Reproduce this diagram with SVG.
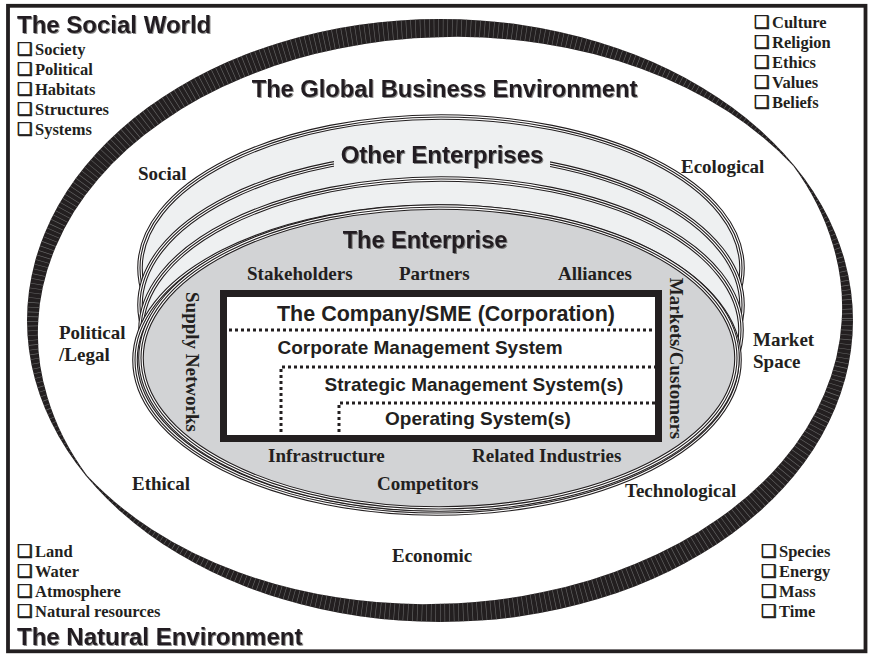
<svg xmlns="http://www.w3.org/2000/svg" xmlns:xlink="http://www.w3.org/1999/xlink" width="873" height="655" viewBox="0 0 873 655">
<style>
.ti{font-family:"Liberation Sans",Arial,sans-serif;font-weight:bold;fill:#231f20}
.tm{font-family:"Liberation Serif","Times New Roman",serif;font-weight:bold;fill:#231f20;font-size:19px}
.li{font-family:"Liberation Serif","Times New Roman",serif;font-weight:bold;font-size:16.5px;fill:#231f20}
.cb{font-family:"DejaVu Sans",sans-serif;font-weight:bold;font-size:17.5px;stroke:#231f20;stroke-width:0.7}
.rf1{fill:#eef0f1;stroke:#231f20;stroke-width:5.6}
.rf2{fill:#d2d3d5;stroke:#231f20;stroke-width:5.6}
.rw{fill:none;stroke:#fff;stroke-width:3.4}
.rk{fill:none;stroke:#231f20;stroke-width:1.1}
.dot{fill:none;stroke:#231f20;stroke-width:3;stroke-dasharray:3 3}
</style>
<defs>
<filter id="sh" x="-5%" y="-30%" width="110%" height="160%">
<feDropShadow dx="1" dy="1" stdDeviation="0.7" flood-color="#000" flood-opacity="0.45"/>
</filter>
<path id="band" fill-rule="evenodd" d="M27,320.5 A413,301.5 0 1 1 853,320.5 A413,301.5 0 1 1 27,320.5 Z
M793.15,165.73 A409.2,297.7 0 0 1 832.64,244.15 A404.1,292.6 0 0 1 841.70,320.5 A399.7,288.2 0 0 1 824.06,394.55 A396.1,284.6 0 0 1 781.66,462.01 A393.6,282.1 0 0 1 717.60,519.26 A392.3,280.8 0 0 1 636,563.42 A392.4,280.9 0 0 1 541.66,592.19 A393.8,282.3 0 0 1 440,603.86 A396.5,285 0 0 1 336.96,597.35 A400.2,288.7 0 0 1 238.85,572.34 A404.7,293.2 0 0 1 152.09,529.56 A409.6,298.1 0 0 1 86.85,475.27 A409.2,297.7 0 0 1 47.36,396.85 A404.1,292.6 0 0 1 38.30,320.5 A399.7,288.2 0 0 1 55.94,246.45 A396.1,284.6 0 0 1 98.34,178.99 A393.6,282.1 0 0 1 162.40,121.74 A392.3,280.8 0 0 1 244,77.58 A392.4,280.9 0 0 1 338.34,48.81 A393.8,282.3 0 0 1 440,37.14 A396.5,285 0 0 1 543.04,43.65 A400.2,288.7 0 0 1 641.15,68.66 A404.7,293.2 0 0 1 727.91,111.44 A409.6,298.1 0 0 1 793.15,165.73 Z"/>
<clipPath id="bandClip"><use xlink:href="#band" clip-rule="evenodd"/></clipPath>
<ellipse id="e1" cx="441" cy="268" rx="301" ry="151"/>
<ellipse id="e2" cx="441" cy="305" rx="301" ry="151"/>
<ellipse id="e3" cx="441" cy="330" rx="300" ry="151"/>
<ellipse id="e4b" cx="437" cy="360" rx="302" ry="153"/>
<ellipse id="e4" cx="439" cy="358" rx="298" ry="151"/>
</defs>
<rect x="0" y="0" width="873" height="655" fill="#fff"/>
<rect x="8" y="5.8" width="857.5" height="645.5" fill="none" stroke="#231f20" stroke-width="3.8"/>

<g id="global-business-environment">
<use xlink:href="#band" fill="#231f20"/>
<ellipse cx="440" cy="320.5" rx="402.5" ry="291" fill="none" stroke="#6a6a6a" stroke-width="30" stroke-dasharray="0.6 4" clip-path="url(#bandClip)"/>
<text class="ti" x="444.5" y="97" font-size="23.7" text-anchor="middle" filter="url(#sh)">The Global Business Environment</text>
<text class="tm" x="138" y="180">Social</text>
<text class="tm" x="681" y="173">Ecological</text>
<text class="tm" x="59" y="339">Political</text>
<text class="tm" x="59" y="361">/Legal</text>
<text class="tm" x="753" y="346">Market</text>
<text class="tm" x="753" y="368">Space</text>
<text class="tm" x="132" y="490">Ethical</text>
<text class="tm" x="625" y="497">Technological</text>
<text class="tm" x="392" y="562">Economic</text>
</g>

<g id="other-enterprises">
<use xlink:href="#e1" class="rf1"/><use xlink:href="#e1" class="rw"/><use xlink:href="#e1" class="rk"/>
<use xlink:href="#e2" class="rf1"/><use xlink:href="#e2" class="rw"/><use xlink:href="#e2" class="rk"/>
<use xlink:href="#e3" class="rf1"/><use xlink:href="#e3" class="rw"/><use xlink:href="#e3" class="rk"/>
<rect x="334" y="144" width="216" height="27" fill="#eef0f1"/>
<text class="ti" x="442" y="163" font-size="24" text-anchor="middle" filter="url(#sh)">Other Enterprises</text>
</g>

<g id="enterprise">
<use xlink:href="#e4b" class="rf2"/><use xlink:href="#e4b" class="rw"/><use xlink:href="#e4b" class="rk"/>
<use xlink:href="#e4" class="rf2"/><use xlink:href="#e4" class="rw"/><use xlink:href="#e4" class="rk"/>
<text class="ti" x="425" y="248" font-size="23.5" text-anchor="middle" filter="url(#sh)">The Enterprise</text>
<text class="tm" x="247" y="280">Stakeholders</text>
<text class="tm" x="399" y="280">Partners</text>
<text class="tm" x="558" y="280">Alliances</text>
<text class="tm" text-anchor="middle" transform="translate(186,362) rotate(90)">Supply Networks</text>
<text class="tm" text-anchor="middle" transform="translate(670,358.5) rotate(90)">Markets/Customers</text>
<text class="tm" x="268" y="462">Infrastructure</text>
<text class="tm" x="472" y="462">Related Industries</text>
<text class="tm" x="377" y="490">Competitors</text>
</g>

<g id="company">
<rect x="223.5" y="293.5" width="435" height="145" fill="#fff" stroke="#231f20" stroke-width="7"/>
<text class="ti" x="446" y="321" font-size="21.5" text-anchor="middle">The Company/SME (Corporation)</text>
<text class="ti" x="420" y="354" font-size="19" text-anchor="middle">Corporate Management System</text>
<text class="ti" x="474" y="391" font-size="19" text-anchor="middle">Strategic Management System(s)</text>
<text class="ti" x="478" y="425" font-size="19" text-anchor="middle">Operating System(s)</text>
</g>

<g id="dividers">
<path class="dot" d="M229,330 H655"/>
<path class="dot" d="M281,438 V367 H655"/>
<path class="dot" d="M339,438 V403 H655"/>
</g>

<g id="social-world">
<text class="ti" x="17" y="33" font-size="24" filter="url(#sh)">The Social World</text>
<text class="li" x="17" y="55"><tspan class="cb">❑</tspan><tspan x="35">Society</tspan></text>
<text class="li" x="17" y="75"><tspan class="cb">❑</tspan><tspan x="35">Political</tspan></text>
<text class="li" x="17" y="95"><tspan class="cb">❑</tspan><tspan x="35">Habitats</tspan></text>
<text class="li" x="17" y="115"><tspan class="cb">❑</tspan><tspan x="35">Structures</tspan></text>
<text class="li" x="17" y="135"><tspan class="cb">❑</tspan><tspan x="35">Systems</tspan></text>
<text class="li" x="754" y="27.5"><tspan class="cb">❑</tspan><tspan x="772">Culture</tspan></text>
<text class="li" x="754" y="47.7"><tspan class="cb">❑</tspan><tspan x="772">Religion</tspan></text>
<text class="li" x="754" y="67.7"><tspan class="cb">❑</tspan><tspan x="772">Ethics</tspan></text>
<text class="li" x="754" y="87.7"><tspan class="cb">❑</tspan><tspan x="772">Values</tspan></text>
<text class="li" x="754" y="107.7"><tspan class="cb">❑</tspan><tspan x="772">Beliefs</tspan></text>
</g>

<g id="natural-environment">
<text class="li" x="17" y="557"><tspan class="cb">❑</tspan><tspan x="35">Land</tspan></text>
<text class="li" x="17" y="577"><tspan class="cb">❑</tspan><tspan x="35">Water</tspan></text>
<text class="li" x="17" y="597"><tspan class="cb">❑</tspan><tspan x="35">Atmosphere</tspan></text>
<text class="li" x="17" y="617"><tspan class="cb">❑</tspan><tspan x="35">Natural resources</tspan></text>
<text class="li" x="761" y="557"><tspan class="cb">❑</tspan><tspan x="779">Species</tspan></text>
<text class="li" x="761" y="577"><tspan class="cb">❑</tspan><tspan x="779">Energy</tspan></text>
<text class="li" x="761" y="597"><tspan class="cb">❑</tspan><tspan x="779">Mass</tspan></text>
<text class="li" x="761" y="617"><tspan class="cb">❑</tspan><tspan x="779">Time</tspan></text>
<text class="ti" x="17" y="645" font-size="24" filter="url(#sh)">The Natural Environment</text>
</g>
</svg>
